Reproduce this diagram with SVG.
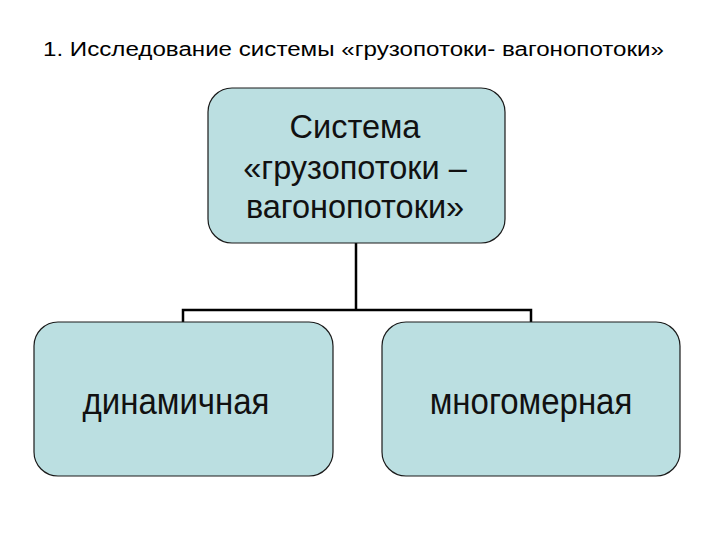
<svg xmlns="http://www.w3.org/2000/svg" width="720" height="540" viewBox="0 0 720 540">
<style>
.box{fill:#BBDFE1;stroke:#1a1a1a;stroke-width:1.2}
.t{font-family:"Liberation Sans",Arial,sans-serif;fill:#111;text-anchor:middle}
.conn{fill:none;stroke:#000;stroke-width:2.5}
</style>
<rect width="720" height="540" fill="#fff"/>
<text id="title" x="43" y="56" font-family="Liberation Sans, Arial, sans-serif" font-size="20" fill="#000" textLength="621" lengthAdjust="spacingAndGlyphs">1. Исследование системы «грузопотоки- вагонопотоки»</text>
<g id="connectors">
<path class="conn" d="M356,243 V310 M183,322 V310 H531 V322"/>
</g>
<g id="node-system">
<rect class="box" x="208" y="88" width="297" height="155" rx="24"/>
<text class="t" x="355" font-size="32.5"><tspan x="355" y="138">Система</tspan><tspan x="355" y="179">«грузопотоки –</tspan><tspan x="355" y="218">вагонопотоки»</tspan></text>
</g>
<g id="node-dynamic">
<rect class="box" x="34" y="322" width="299" height="154" rx="24"/>
<text class="t" transform="translate(176,414) scale(1,1.12)" font-size="33">динамичная</text>
</g>
<g id="node-multi">
<rect class="box" x="382" y="322" width="298" height="154" rx="24"/>
<text class="t" transform="translate(531,414) scale(1,1.12)" font-size="33">многомерная</text>
</g>
</svg>
